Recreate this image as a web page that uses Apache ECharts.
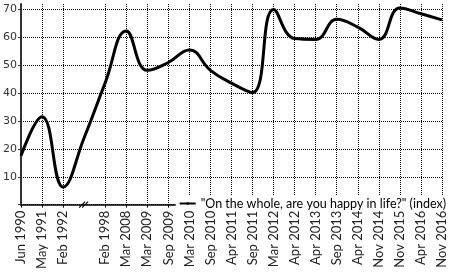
<!DOCTYPE html>
<html>
<head>
<meta charset="utf-8">
<script src="https://cdn.jsdelivr.net/npm/echarts@6/dist/echarts.min.js"></script>
<style>
  html, body { margin: 0; padding: 0; background: #fff; }
  #chart { width: 450px; height: 272px; }
</style>
</head>
<body>
<div id="chart"></div>
<script>
// survey dates, '' is the axis break between 1992 and 1998
var categories = ['Jun 1990', 'May 1991', 'Feb 1992', '', 'Feb 1998', 'Mar 2008', 'Mar 2009',
  'Sep 2009', 'Mar 2010', 'Sep 2010', 'Apr 2011', 'Sep 2011', 'Mar 2012', 'Apr 2012',
  'Apr 2013', 'Sep 2013', 'Apr 2014', 'Nov 2014', 'Nov 2015', 'Apr 2016', 'Nov 2016']
var happyIndex = [17.5, 31.5, 6.3, 24, 43.7, 62.3, 48.2, 51, 55.5, 48.2, 43.6, 40.2, 70,
  59.6, 59.3, 66.5, 63.7, 59.3, 70.6, 68.5, 66.3]
var seriesName = '"On the whole, are you happy in life?" (index)'
var breakIndex = 3

var chart = echarts.init(document.getElementById('chart'))

var gridLine = { color: '#000', type: 'dotted', width: 1 }

var option = {
  animation: false,
  grid: { left: 19, right: 8, top: 4, bottom: 55.5, containLabel: false },
  legend: {
    right: 1,
    top: 196,
    padding: [1, 3, 1, 3],
    backgroundColor: '#fff',
    itemWidth: 16,
    itemHeight: 3,
    itemGap: 4,
    textStyle: { fontFamily: 'Lato', fontSize: 12.5, color: '#000' },
    data: [seriesName]
  },
  xAxis: {
    type: 'category',
    boundaryGap: false,
    data: categories,
    axisLine: { lineStyle: { color: '#000', width: 1.5 } },
    axisTick: {
      length: 3,
      interval: function(i) { return i !== breakIndex },
      lineStyle: { color: '#000' }
    },
    axisLabel: {
      rotate: 90,
      interval: 0,
      margin: 6,
      fontFamily: 'Lato',
      fontSize: 13,
      color: '#222'
    },
    splitLine: {
      show: true,
      interval: function(i) { return i !== breakIndex },
      lineStyle: gridLine
    }
  },
  yAxis: {
    type: 'value',
    min: 0,
    max: 72,
    interval: 10,
    axisLine: { show: true, lineStyle: { color: '#333', width: 2 } },
    axisTick: { show: true, length: 3, lineStyle: { color: '#333' } },
    axisLabel: {
      margin: 4,
      fontFamily: 'DejaVu Sans',
      fontSize: 11,
      color: '#333',
      showMaxLabel: false,
      formatter: function(v) { return (v === 0 || v % 10 !== 0) ? '' : v }
    },
    splitLine: {
      show: true,
      showMaxLine: false,
      lineStyle: gridLine
    }
  },
  series: [{
    name: seriesName,
    type: 'line',
    smooth: 0.45,
    symbol: 'none',
    data: happyIndex,
    lineStyle: { color: '#000', width: 3 },
    itemStyle: { color: '#000' }
  }]
}

chart.setOption(option)

// axis break marker "//" placed at the empty category
var p = chart.convertToPixel({ gridIndex: 0 }, [breakIndex, 0])
chart.setOption({
  graphic: [
    { type: 'line', shape: { x1: p[0] - 5, y1: p[1] + 3, x2: p[0] + 1, y2: p[1] - 3 }, style: { stroke: '#000', lineWidth: 1.2 } },
    { type: 'line', shape: { x1: p[0] - 2, y1: p[1] + 3, x2: p[0] + 4, y2: p[1] - 3 }, style: { stroke: '#000', lineWidth: 1.2 } }
  ]
})
</script>
</body>
</html>
